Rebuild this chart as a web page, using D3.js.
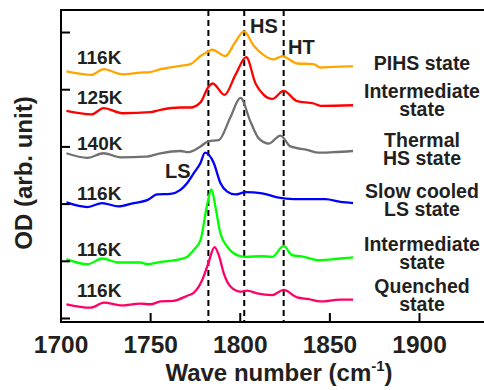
<!DOCTYPE html>
<html>
<head>
<meta charset="utf-8">
<script src="https://cdn.jsdelivr.net/npm/d3@7"></script>
<style>
  body { margin: 0; background: #fff; }
  svg text { font-family: "Liberation Sans", Arial, Helvetica, sans-serif; font-weight: bold; fill: #231f20; }
</style>
</head>
<body>
<svg id="chart" width="484" height="390"></svg>
<script>
// spectra, stacked (offset OD)
const pihsWn = [1703.3, 1717.3, 1724.0, 1734.6, 1744.6, 1750.2, 1755.8, 1761.3, 1766.9, 1772.5, 1778.1, 1782.5, 1784.6, 1792.0, 1797.6, 1802.4, 1807.6, 1813.2, 1818.8, 1823.7, 1832.0, 1841.1, 1845.0, 1852.3, 1863.2];
const pihsOd = [4.31, 4.25, 4.35, 4.26, 4.29, 4.30, 4.35, 4.38, 4.41, 4.44, 4.58, 4.66, 4.69, 4.58, 4.83, 5.01, 4.77, 4.60, 4.52, 4.58, 4.45, 4.44, 4.38, 4.39, 4.40];

const inter125Wn = [1703.3, 1717.3, 1724.0, 1734.6, 1750.2, 1755.8, 1766.9, 1772.5, 1778.1, 1782.5, 1784.9, 1791.5, 1797.6, 1803.6, 1808.8, 1813.4, 1818.1, 1824.5, 1832.0, 1841.3, 1845.0, 1863.2];
const inter125Od = [3.62, 3.56, 3.67, 3.58, 3.60, 3.64, 3.68, 3.68, 3.77, 4.04, 4.10, 3.90, 4.25, 4.56, 4.10, 3.90, 3.83, 3.97, 3.79, 3.75, 3.71, 3.72];

const thermalWn = [1703.3, 1715.1, 1724.0, 1733.5, 1747.4, 1755.8, 1766.9, 1771.4, 1778.1, 1782.5, 1788.3, 1794.8, 1800.4, 1806.0, 1810.6, 1816.2, 1822.7, 1828.3, 1837.6, 1844.1, 1852.3, 1863.2];
const thermalOd = [2.88, 2.80, 2.88, 2.81, 2.82, 2.88, 2.92, 2.90, 3.00, 3.09, 3.11, 3.51, 3.85, 3.43, 3.14, 3.05, 3.19, 3.00, 2.94, 2.89, 2.90, 2.92];

const slowWn = [1703.3, 1715.1, 1723.3, 1732.3, 1740.9, 1748.4, 1753.9, 1761.3, 1766.9, 1770.7, 1774.3, 1778.1, 1780.6, 1785.5, 1789.2, 1793.0, 1797.6, 1803.2, 1812.5, 1820.9, 1830.1, 1839.4, 1847.8, 1856.2, 1863.2];
const slowOd = [2.02, 1.94, 2.01, 1.95, 2.01, 2.06, 2.16, 2.17, 2.24, 2.36, 2.53, 2.71, 2.89, 2.71, 2.36, 2.21, 2.16, 2.20, 2.18, 2.11, 2.08, 2.08, 2.08, 2.03, 2.01];

const inter116Wn = [1703.3, 1715.1, 1723.3, 1732.3, 1744.6, 1748.4, 1755.8, 1766.9, 1770.7, 1774.3, 1778.1, 1781.8, 1784.2, 1786.4, 1789.2, 1793.0, 1798.5, 1803.2, 1812.5, 1818.1, 1824.5, 1829.2, 1835.7, 1844.1, 1856.2, 1863.2];
const inter116Od = [1.03, 0.94, 1.04, 0.97, 0.97, 0.94, 0.98, 1.03, 1.07, 1.19, 1.36, 1.98, 2.25, 1.95, 1.48, 1.25, 1.10, 1.07, 1.08, 1.07, 1.26, 1.10, 1.07, 1.01, 1.04, 1.06];

const quenchWn = [1703.3, 1716.7, 1724.3, 1733.5, 1744.6, 1750.2, 1755.8, 1763.0, 1770.7, 1774.3, 1779.0, 1782.5, 1785.9, 1788.3, 1791.1, 1794.8, 1800.4, 1804.1, 1809.7, 1818.1, 1824.5, 1832.0, 1838.5, 1845.0, 1856.2, 1863.2];
const quenchOd = [0.24, 0.18, 0.27, 0.22, 0.25, 0.24, 0.29, 0.30, 0.39, 0.44, 0.66, 0.96, 1.24, 1.10, 0.78, 0.55, 0.46, 0.48, 0.43, 0.40, 0.49, 0.36, 0.33, 0.29, 0.32, 0.32];

const temps = ['116K', '125K', '140K', '116K', '116K', '116K'];
const stateNames = [['PIHS state'], ['Intermediate', 'state'], ['Thermal', 'HS state'], ['Slow cooled', 'LS state'], ['Intermediate', 'state'], ['Quenched', 'state']];
const markers = [{ wn: 1782.5, label: 'LS' }, { wn: 1802.5, label: 'HS' }, { wn: 1824.5, label: 'HT' }];
const xTicks = [1700, 1750, 1800, 1850, 1900];
const yTicks = [0, 1, 2, 3, 4, 5];

const series = [
  [pihsWn, pihsOd], [inter125Wn, inter125Od], [thermalWn, thermalOd],
  [slowWn, slowOd], [inter116Wn, inter116Od], [quenchWn, quenchOd]
].map(([wn, od]) => wn.map((w, i) => ({ wn: w, od: od[i] })));

const colors = ['#ffa500', '#ff0000', '#707070', '#0000ff', '#00ff00', '#ff0066'];

const svg = d3.select('#chart');
const padL = 61, padT = 10, padB = 322;

const x = d3.scaleLinear().domain([1700, 1900]).range([60.5, 419]);
const y = d3.scaleLinear().domain([-0.07, 5.385]).range([padB, padT]);

// dashed marker lines
svg.selectAll('.marker')
  .data(markers)
  .enter()
  .append('line')
  .attr('x1', d => x(d.wn)).attr('x2', d => x(d.wn))
  .attr('y1', padT).attr('y2', padB)
  .attr('stroke', '#000').attr('stroke-width', 2)
  .attr('stroke-dasharray', '6,4');

// spectra
const line = d3.line()
  .x(d => x(d.wn))
  .y(d => y(d.od))
  .curve(d3.curveMonotoneX);

svg.selectAll('.spec')
  .data(series)
  .enter()
  .append('path')
  .attr('d', line)
  .attr('fill', 'none')
  .attr('stroke', (d, i) => colors[i])
  .attr('stroke-width', 2.3)
  .attr('stroke-linejoin', 'round');

// axes (ticks inside)
const xAxis = svg.append('g')
  .attr('transform', `translate(0,${padB})`)
  .call(d3.axisBottom(x).tickValues(xTicks).tickSize(-9).tickFormat(d3.format('d')));
xAxis.select('.domain').remove();
xAxis.selectAll('line').attr('stroke', '#000').attr('stroke-width', 2);
xAxis.selectAll('text').attr('y', 31).attr('dy', 0).style('font-size', '24.5px');

const yAxis = svg.append('g')
  .attr('transform', `translate(${padL},0)`)
  .call(d3.axisLeft(y).tickValues(yTicks).tickSize(-9).tickFormat(''));
yAxis.select('.domain').remove();
yAxis.selectAll('line').attr('stroke', '#000').attr('stroke-width', 2);

// frame: left, top, bottom (open to the right edge)
svg.append('path')
  .attr('d', `M490,${padT}H${padL}V${padB}H490`)
  .attr('fill', 'none')
  .attr('stroke', '#000')
  .attr('stroke-width', 2);

// temperature labels
const tempY = [64, 104, 150, 200, 256, 297];
svg.selectAll('.temp')
  .data(temps)
  .enter()
  .append('text')
  .attr('x', 77)
  .attr('y', (d, i) => tempY[i])
  .style('font-size', '19px')
  .text(d => d);

// state labels on the right
const stateY = [70, 98, 147, 198, 251, 293];
stateNames.forEach((lines, i) => {
  const t = svg.append('text')
    .attr('x', 422)
    .attr('y', stateY[i])
    .attr('text-anchor', 'middle')
    .style('font-size', '19.5px');
  lines.forEach((s, j) => {
    t.append('tspan').attr('x', 422).attr('dy', j === 0 ? 0 : 18).text(s);
  });
});

// peak labels
const peakPos = { LS: [165, 178], HS: [250, 33], HT: [288, 54] };
svg.selectAll('.peak')
  .data(markers)
  .enter()
  .append('text')
  .attr('x', d => peakPos[d.label][0])
  .attr('y', d => peakPos[d.label][1])
  .style('font-size', '20px')
  .text(d => d.label);

// axis titles
const xt = svg.append('text')
  .attr('x', 279)
  .attr('y', 381)
  .attr('text-anchor', 'middle')
  .style('font-size', '24px');
xt.append('tspan').text('Wave number (cm');
xt.append('tspan').attr('dy', -10).style('font-size', '15px').text('-1');
xt.append('tspan').attr('dy', 10).text(')');

svg.append('text')
  .attr('transform', 'translate(32,173) rotate(-90)')
  .attr('text-anchor', 'middle')
  .style('font-size', '24px')
  .text('OD (arb. unit)');
</script>
</body>
</html>
